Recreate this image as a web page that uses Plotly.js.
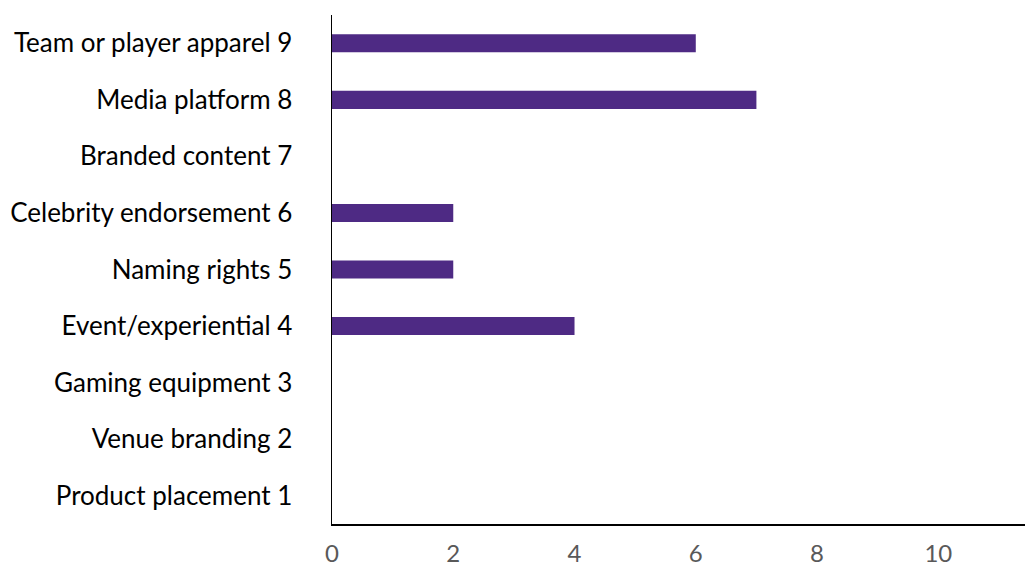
<!DOCTYPE html>
<html>
<head>
<meta charset="utf-8">
<script src="https://cdn.plot.ly/plotly-3.0.1.min.js"></script>
<style>html,body{margin:0;padding:0;background:#fff;}#chart{width:1025px;height:569px;}</style>
</head>
<body>
<div id="chart"></div>
<script>
const categories = [
  "Product placement 1",
  "Venue branding 2",
  "Gaming equipment 3",
  "Event/experiential 4",
  "Naming rights 5",
  "Celebrity endorsement 6",
  "Branded content 7",
  "Media platform 8",
  "Team or player apparel 9"
];
const values = [0, 0, 0, 4, 2, 2, 0, 7, 6];
const xTicks = [0, 2, 4, 6, 8, 10];

const trace = {
  type: 'bar',
  orientation: 'h',
  y: categories,
  x: values,
  width: 0.32,
  marker: {color: '#4E2A84'},
  hoverinfo: 'x+y'
};

const layout = {
  width: 1025,
  height: 569,
  margin: {l: 332, r: 0, t: 15, b: 45},
  paper_bgcolor: '#ffffff',
  plot_bgcolor: '#ffffff',
  showlegend: false,
  font: {family: 'Lato, "Open Sans", sans-serif', size: 26, color: '#000000'},
  xaxis: {
    range: [0, 11.43],
    tickvals: xTicks,
    ticktext: xTicks.map(String),
    showgrid: false,
    zeroline: false,
    showline: true,
    linecolor: '#000000',
    linewidth: 1.5,
    ticks: '',
    ticklabelstandoff: 8,
    tickfont: {family: 'Lato, "Open Sans", sans-serif', size: 24, color: '#595959'},
    fixedrange: true
  },
  yaxis: {
    type: 'category',
    categoryorder: 'array',
    categoryarray: categories,
    range: [-0.5, 8.5],
    showgrid: false,
    zeroline: false,
    showline: true,
    linecolor: '#000000',
    linewidth: 1.5,
    ticks: '',
    ticklabelstandoff: 33,
    tickfont: {family: 'Lato, "Open Sans", sans-serif', size: 26, color: '#000000'},
    fixedrange: true
  }
};

Plotly.newPlot('chart', [trace], layout, {displayModeBar: false, staticPlot: true});
</script>
</body>
</html>
